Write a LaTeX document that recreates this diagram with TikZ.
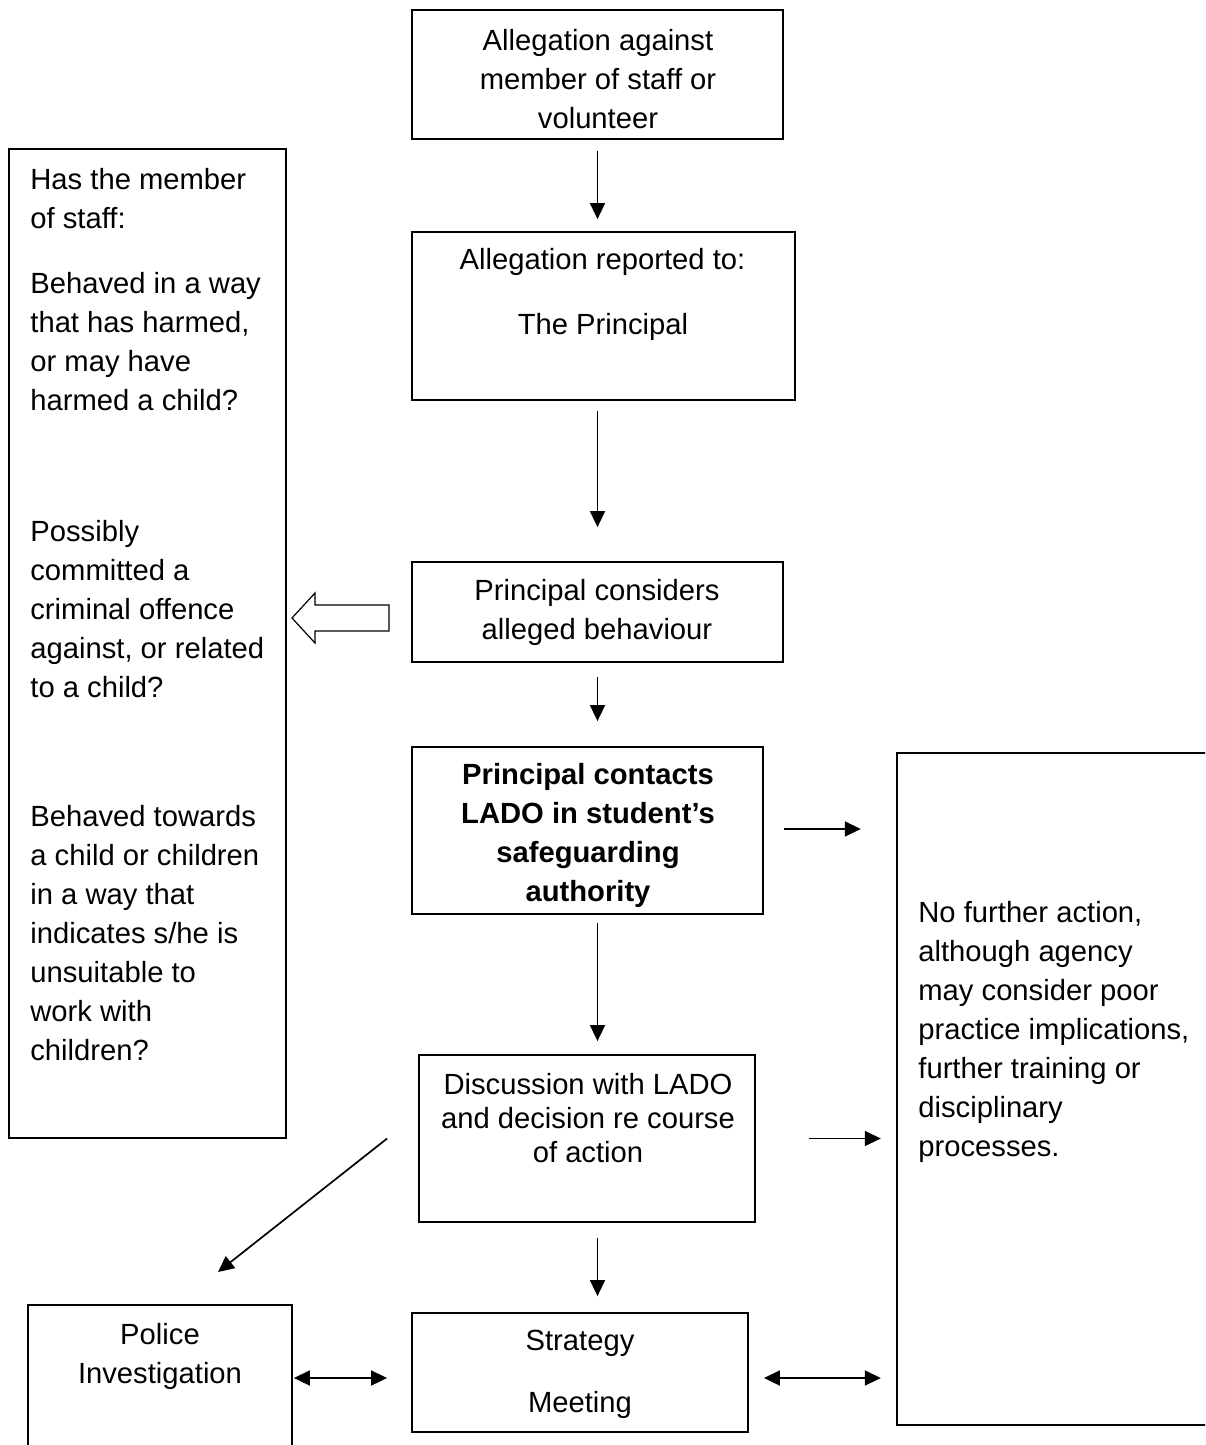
\documentclass[tikz,border=0pt]{standalone}
\usepackage{fontspec}
\setmainfont{Liberation Sans}
\usetikzlibrary{arrows.meta,fit}
\begin{document}
\begin{tikzpicture}[x=0.5pt,y=-0.5pt,
  box/.style={draw,line width=0.9pt,inner sep=0pt},
  txt/.style={inner sep=0pt,font=\fontsize{14.6pt}{19.5pt}\selectfont,align=center},
  ltxt/.style={inner sep=0pt,font=\fontsize{14.6pt}{19.5pt}\selectfont,align=left,anchor=west},
  arr/.style={line width=0.85pt,-{Triangle[length=8pt,width=7.5pt]}},
  darr/.style={line width=0.85pt,{Triangle[length=8pt,width=7.5pt]}-{Triangle[length=8pt,width=7.5pt]}}]
\useasboundingbox (0,0) rectangle (1205,1445);
\clip (0,0) rectangle (1205,1445);
% boxes
\node[box,fit={(412,10) (783,139)}] (b1) {};
\node[box,fit={(412,232) (795,400)}] (b2) {};
\node[box,fit={(412,562) (783,662)}] (b3) {};
\node[box,fit={(412,747) (763,914)}] (b4) {};
\node[box,fit={(419,1055) (755,1222)}] (b5) {};
\node[box,fit={(412,1313) (748,1432)}] (b6) {};
\node[box,fit={(28,1305) (292,1470)}] (pol) {};
\node[box,fit={(9,149) (286,1138)}] (lbox) {};
\node[box,line width=1.2pt,fit={(897,753) (1230,1425)}] (rbox) {};
% texts
\node[txt] (t1) at (598,79) {Allegation against\\member of staff or\\volunteer};
\node[txt] (t2a) at (602.5,262) {Allegation reported to:};
\node[txt] (t2b) at (603,327) {The Principal};
\node[txt] (t3) at (597,612) {Principal considers\\alleged behaviour};
\node[txt,font=\fontsize{14.6pt}{19.5pt}\selectfont\bfseries] (t4) at (588,835) {Principal contacts\\LADO in student’s\\safeguarding\\authority};
\node[txt,font=\fontsize{14.6pt}{17pt}\selectfont] (t5) at (588,1118) {Discussion with LADO\\and decision re course\\of action};
\node[txt] (t6a) at (580,1343) {Strategy};
\node[txt] (t6b) at (580,1405) {Meeting};
\node[txt] (tp) at (160,1356) {Police\\Investigation};
\node[ltxt] (l1) at (30,199) {Has the member\\of staff:};
\node[ltxt] (l2) at (30,342) {Behaved in a way\\that has harmed,\\or may have\\harmed a child?};
\node[ltxt] (l3) at (30,609) {Possibly\\committed a\\criminal offence\\against, or related\\to a child?};
\node[ltxt] (l4) at (30,933) {Behaved towards\\a child or children\\in a way that\\indicates s/he is\\unsuitable to\\work with\\children?};
\node[ltxt] (r1) at (918,1032) {No further action,\\although agency\\may consider poor\\practice implications,\\further training or\\disciplinary\\processes.};
% vertical arrows
\draw[arr,shorten <=5.5pt,shorten >=6pt] (b1.south) -- (b1.south |- b2.north);
\draw[arr,shorten <=5pt,shorten >=17pt] (b1.south |- b2.south) -- (b1.south |- b3.north);
\draw[arr,shorten <=7pt,shorten >=12.5pt] (b1.south |- b3.south) -- (b1.south |- b4.north);
\draw[arr,shorten <=4pt,shorten >=6.5pt] (b1.south |- b4.south) -- (b1.south |- b5.north);
\draw[arr,shorten <=7.5pt,shorten >=8pt] (b1.south |- b5.south) -- (b1.south |- b6.north);
% horizontal arrows
\draw[arr,shorten <=10pt,shorten >=17.5pt] ([yshift=0.75pt]b4.east) -- ([yshift=0.75pt]b4.east -| rbox.west);
\draw[arr,shorten <=26.5pt,shorten >=7.5pt] (b5.east) -- (b5.east -| rbox.west);
\draw[darr,shorten <=7.5pt,shorten >=7.5pt] ([yshift=-2.75pt]b6.east) -- ([yshift=-2.75pt]b6.east -| rbox.west);
\draw[darr,shorten <=0.5pt,shorten >=12pt] ([yshift=-2.75pt]b6.west -| pol.east) -- ([yshift=-2.75pt]b6.west);
% diagonal arrow
\coordinate (d2) at (218,1272);
\draw[arr] ([xshift=-15.5pt]b5.west) -- (d2);
% hollow arrow
\coordinate (ha) at (292,618);
\draw[line width=0.6pt] (ha) -- (315,593) -- (315,605) -- (389,605) -- (389,631) -- (315,631) -- (315,643) -- cycle;
\end{tikzpicture}
\end{document}
